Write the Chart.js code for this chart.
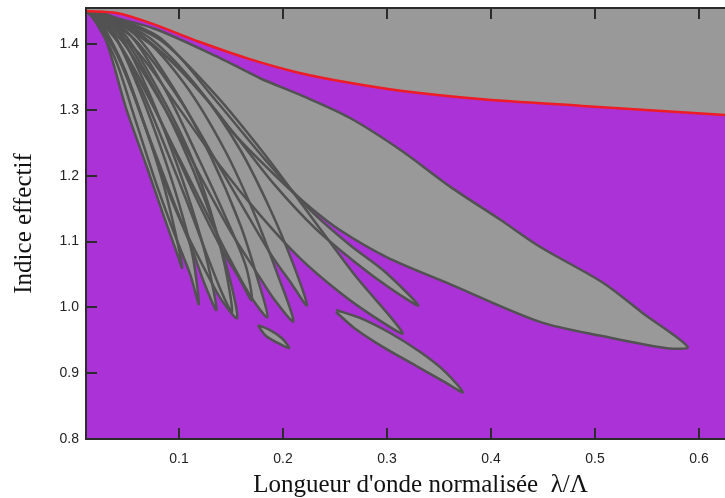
<!DOCTYPE html>
<html>
<head>
<meta charset="utf-8">
<script src="https://cdn.jsdelivr.net/npm/chart.js@4.4.1/dist/chart.umd.min.js"></script>
<style>
  html, body { margin: 0; padding: 0; background: #fff; overflow: hidden; }
  /* the figure is cropped on the right: canvas is wider than the window */
  #wrap { width: 725px; height: 498px; overflow: hidden; }
</style>
</head>
<body>
<div id="wrap"><canvas id="chart" width="755" height="498"></canvas></div>
<script>
// Axis ticks
const xTicks = [0.1, 0.2, 0.3, 0.4, 0.5, 0.6];
const yTicks = [0.8, 0.9, 1.0, 1.1, 1.2, 1.3, 1.4];

// Cladding index line (red)
const cladX = [0.011, 0.040, 0.072, 0.120, 0.168, 0.216, 0.264, 0.313, 0.392, 0.488, 0.625, 0.655];
const cladY = [1.450, 1.447, 1.432, 1.403, 1.377, 1.356, 1.341, 1.329, 1.316, 1.306, 1.292, 1.289];

// Bands (closed outlines: upper edge then lower edge back)
const bandAX = [0.011, 0.075, 0.139, 0.178, 0.216, 0.264, 0.313, 0.361, 0.409, 0.447, 0.508, 0.546, 0.589, 0.569, 0.508, 0.447, 0.361, 0.300, 0.255, 0.226, 0.194, 0.152, 0.127, 0.091, 0.053, 0.024, 0.011];
const bandAY = [1.450, 1.424, 1.379, 1.348, 1.323, 1.288, 1.239, 1.183, 1.133, 1.092, 1.037, 0.991, 0.940, 0.938, 0.956, 0.978, 1.035, 1.076, 1.117, 1.152, 1.198, 1.265, 1.315, 1.376, 1.421, 1.443, 1.450];

const band1X = [0.013, 0.029, 0.048, 0.067, 0.084, 0.096, 0.103, 0.097, 0.085, 0.070, 0.049, 0.030, 0.017, 0.011];
const band1Y = [1.449, 1.421, 1.361, 1.277, 1.193, 1.117, 1.060, 1.087, 1.140, 1.209, 1.303, 1.405, 1.440, 1.449];

const band2X = [0.014, 0.036, 0.058, 0.080, 0.099, 0.113, 0.119, 0.111, 0.096, 0.077, 0.058, 0.039, 0.019, 0.013];
const band2Y = [1.449, 1.418, 1.345, 1.254, 1.163, 1.079, 1.005, 1.049, 1.110, 1.193, 1.285, 1.376, 1.437, 1.447];

const band2bX = [0.016, 0.043, 0.070, 0.093, 0.113, 0.128, 0.136, 0.125, 0.111, 0.091, 0.072, 0.051, 0.029, 0.016];
const band2bY = [1.449, 1.414, 1.330, 1.239, 1.148, 1.064, 0.996, 1.034, 1.095, 1.171, 1.254, 1.345, 1.421, 1.446];

const band3X = [0.016, 0.043, 0.072, 0.101, 0.125, 0.144, 0.156, 0.141, 0.125, 0.106, 0.087, 0.067, 0.043, 0.019];
const band3Y = [1.449, 1.418, 1.345, 1.254, 1.163, 1.072, 0.984, 1.011, 1.057, 1.117, 1.193, 1.277, 1.376, 1.440];

const band3bX = [0.018, 0.048, 0.080, 0.109, 0.130, 0.144, 0.151, 0.141, 0.127, 0.109, 0.088, 0.064, 0.036, 0.018];
const band3bY = [1.449, 1.414, 1.330, 1.239, 1.148, 1.064, 0.993, 1.023, 1.079, 1.155, 1.239, 1.330, 1.418, 1.446];

const band4X = [0.019, 0.053, 0.087, 0.115, 0.144, 0.164, 0.170, 0.159, 0.139, 0.115, 0.091, 0.063, 0.034, 0.019];
const band4Y = [1.449, 1.414, 1.330, 1.239, 1.140, 1.064, 1.011, 1.041, 1.095, 1.171, 1.254, 1.345, 1.421, 1.446];

const band5X = [0.019, 0.058, 0.096, 0.130, 0.159, 0.176, 0.185, 0.168, 0.147, 0.125, 0.101, 0.072, 0.043, 0.019];
const band5Y = [1.449, 1.414, 1.330, 1.231, 1.125, 1.041, 0.985, 1.019, 1.079, 1.148, 1.224, 1.315, 1.399, 1.444];

const band6X = [0.021, 0.063, 0.106, 0.144, 0.173, 0.195, 0.210, 0.192, 0.173, 0.149, 0.120, 0.087, 0.048, 0.021];
const band6Y = [1.449, 1.414, 1.338, 1.239, 1.140, 1.049, 0.979, 1.011, 1.057, 1.117, 1.201, 1.300, 1.399, 1.444];

const band7X = [0.024, 0.072, 0.120, 0.159, 0.188, 0.209, 0.223, 0.209, 0.189, 0.166, 0.138, 0.101, 0.058, 0.024];
const band7Y = [1.449, 1.409, 1.330, 1.239, 1.148, 1.069, 1.003, 1.034, 1.079, 1.140, 1.216, 1.315, 1.406, 1.444];

const band8X = [0.024, 0.082, 0.135, 0.183, 0.226, 0.269, 0.315, 0.289, 0.255, 0.216, 0.178, 0.139, 0.101, 0.063, 0.024];
const band8Y = [1.449, 1.406, 1.323, 1.231, 1.140, 1.049, 0.961, 0.984, 1.022, 1.075, 1.140, 1.216, 1.300, 1.383, 1.444];

const band9X = [0.024, 0.082, 0.135, 0.183, 0.226, 0.264, 0.298, 0.330, 0.303, 0.269, 0.231, 0.192, 0.154, 0.111, 0.063, 0.024];
const band9Y = [1.449, 1.409, 1.315, 1.224, 1.148, 1.095, 1.054, 1.003, 1.029, 1.069, 1.120, 1.186, 1.262, 1.345, 1.414, 1.446];

// small isolated bands
const islandAX = [0.176, 0.188, 0.199, 0.206, 0.195, 0.184, 0.177, 0.176];
const islandAY = [0.973, 0.965, 0.953, 0.938, 0.946, 0.956, 0.970, 0.973];

const islandBX = [0.251, 0.274, 0.303, 0.332, 0.356, 0.373, 0.356, 0.327, 0.298, 0.269, 0.251];
const islandBY = [0.996, 0.984, 0.961, 0.932, 0.902, 0.871, 0.886, 0.912, 0.938, 0.968, 0.993];

const PURPLE = '#aa32d6';
const GREY = '#999999';
const EDGE = '#525252';

const toPoints = (xs, ys) => xs.map((x, i) => ({ x: x, y: ys[i] }));

function band(xs, ys) {
    return {
        data: toPoints(xs, ys),
        showLine: true,
        fill: 'shape',
        backgroundColor: GREY,
        borderColor: EDGE,
        borderWidth: 2.5,
        tension: 0.3,
        pointRadius: 0
    };
}

// purple background + frame with inward ticks
const framePlugin = {
    id: 'frame',
    beforeDraw(chart) {
        const { ctx, chartArea: a } = chart;
        ctx.save();
        ctx.fillStyle = PURPLE;
        ctx.fillRect(a.left, a.top, a.right - a.left, a.bottom - a.top);
        ctx.restore();
    },
    afterDraw(chart) {
        const { ctx, chartArea: a, scales } = chart;
        ctx.save();
        ctx.strokeStyle = '#2b2b2b';
        ctx.lineWidth = 2;
        ctx.strokeRect(a.left, a.top, a.right - a.left, a.bottom - a.top);
        ctx.beginPath();
        xTicks.forEach(v => {
            const px = Math.round(scales.x.getPixelForValue(v));
            ctx.moveTo(px, a.bottom); ctx.lineTo(px, a.bottom - 11);
            ctx.moveTo(px, a.top); ctx.lineTo(px, a.top + 11);
        });
        yTicks.forEach(v => {
            const py = Math.round(scales.y.getPixelForValue(v));
            ctx.moveTo(a.left, py); ctx.lineTo(a.left + 11, py);
        });
        ctx.stroke();
        ctx.restore();
    }
};

new Chart(document.getElementById('chart'), {
    type: 'scatter',
    data: {
        datasets: [
            {
                data: toPoints(cladX, cladY),
                showLine: true,
                fill: 'end',
                backgroundColor: GREY,
                borderColor: '#ee1c24',
                borderWidth: 2.5,
                tension: 0.3,
                pointRadius: 0
            },
            band(bandAX, bandAY),
            band(band9X, band9Y),
            band(band8X, band8Y),
            band(band7X, band7Y),
            band(band6X, band6Y),
            band(band5X, band5Y),
            band(band4X, band4Y),
            band(band3bX, band3bY),
            band(band3X, band3Y),
            band(band2bX, band2bY),
            band(band2X, band2Y),
            band(band1X, band1Y),
            band(islandAX, islandAY),
            band(islandBX, islandBY)
        ]
    },
    options: {
        responsive: false,
        animation: false,
        events: [],
        layout: { padding: { top: 8, left: 0, right: 0, bottom: 0 } },
        plugins: {
            legend: { display: false },
            tooltip: { enabled: false },
            filler: { drawTime: 'beforeDatasetsDraw' }
        },
        scales: {
            x: {
                type: 'linear',
                min: 0.0106,
                max: 0.6538,
                afterFit: s => {
                    s.height = 59;
                    s.paddingLeft = 0; s.paddingRight = 0;
                    s.paddingTop = 0; s.paddingBottom = 0;
                },
                afterBuildTicks: s => { s.ticks = xTicks.map(v => ({ value: v })); },
                grid: { display: false, drawTicks: false },
                border: { display: false },
                ticks: {
                    padding: 12,
                    color: '#222',
                    font: { family: 'Liberation Sans', size: 14 },
                    callback: v => v.toFixed(1)
                },
                title: {
                    display: true,
                    text: "Longueur d'onde normalisée  λ/Λ",
                    color: '#111',
                    font: { family: 'Liberation Serif', size: 25, lineHeight: 1 },
                    padding: { top: 0, bottom: 0 }
                }
            },
            y: {
                min: 0.8,
                max: 1.4547,
                afterFit: s => {
                    s.width = 86;
                    s.paddingLeft = 0; s.paddingRight = 0;
                    s.paddingTop = 0; s.paddingBottom = 0;
                },
                afterBuildTicks: s => { s.ticks = yTicks.map(v => ({ value: v })); },
                grid: { display: false, drawTicks: false },
                border: { display: false },
                ticks: {
                    padding: 7,
                    color: '#222',
                    font: { family: 'Liberation Sans', size: 14 },
                    callback: v => v.toFixed(1)
                },
                title: {
                    display: true,
                    text: 'Indice effectif',
                    color: '#111',
                    font: { family: 'Liberation Serif', size: 25, lineHeight: 1 },
                    padding: { top: 12, bottom: 0 }
                }
            }
        }
    },
    plugins: [framePlugin]
});
</script>
</body>
</html>
